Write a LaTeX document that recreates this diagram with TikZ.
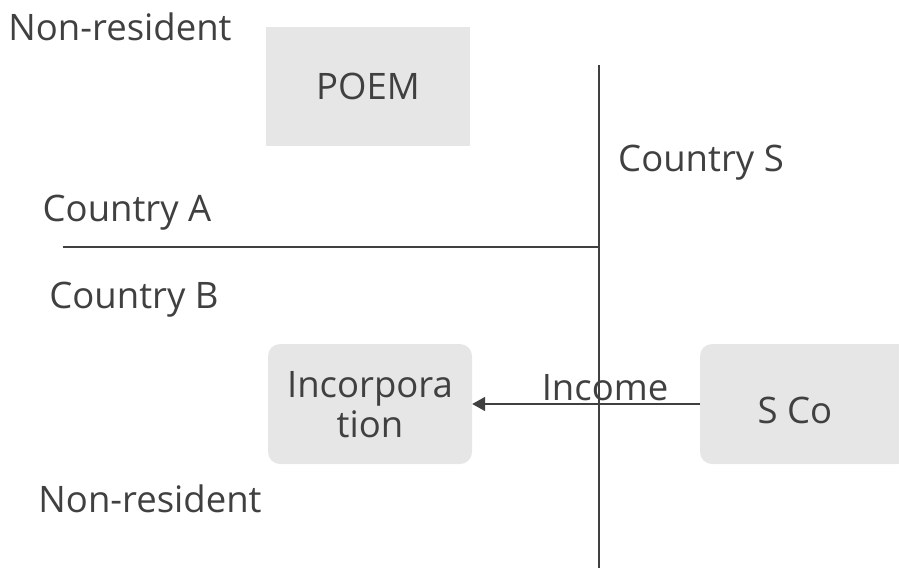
\documentclass[tikz,border=0pt]{standalone}
\usepackage{fontspec}
\setmainfont{Open Sans}
\usetikzlibrary{arrows.meta}
\definecolor{txt}{HTML}{404040}
\definecolor{boxfill}{HTML}{E6E6E6}
\begin{document}
\begin{tikzpicture}[x=1pt,y=-1pt,
  lbl/.style={text=txt,font=\fontsize{36.5}{40}\selectfont,inner sep=0pt},
  sqbox/.style={fill=boxfill,minimum width=204pt,minimum height=119pt,inner sep=0pt,text=txt,font=\fontsize{36.5}{40}\selectfont},
  rbox/.style={sqbox,rounded corners=12pt},
  ln/.style={draw=txt,line width=1.8pt}]
\useasboundingbox (0,0) rectangle (899,568);
\node[sqbox] (poem) at (368,86.5) {POEM};
\node[rbox,minimum width=204pt,minimum height=120pt] (inc) at (370,404) {};
\node[lbl,align=center] (inct) at (370,405) {Incorpora\\tion};
\node[rbox,minimum width=210pt,minimum height=120pt] (sco) at (805,404) {};
\node[lbl] (scot) at (795,410) {S Co};
\node[lbl] (nr1) at (120,27) {Non-resident};
\node[lbl] (cs) at (701,163) {Country S};
\node[lbl] (ca) at (127,213) {Country A};
\node[lbl] (cb) at (134,300) {Country B};
\node[lbl] (nr2) at (150,499) {Non-resident};
\node[lbl] (inclbl) at (605,388) {Income};
\coordinate (vt) at (599,65);
\coordinate (vb) at (599,568);
\coordinate (hl) at (63,247);
\coordinate (hr) at (599,247);
\draw[ln] (vt) -- (vb);
\draw[ln] (hl) -- (hr);
\draw[ln,-{Triangle[length=13pt,width=14pt]}] (sco.west |- 0,404) -- (inc.east);
\end{tikzpicture}
\end{document}
